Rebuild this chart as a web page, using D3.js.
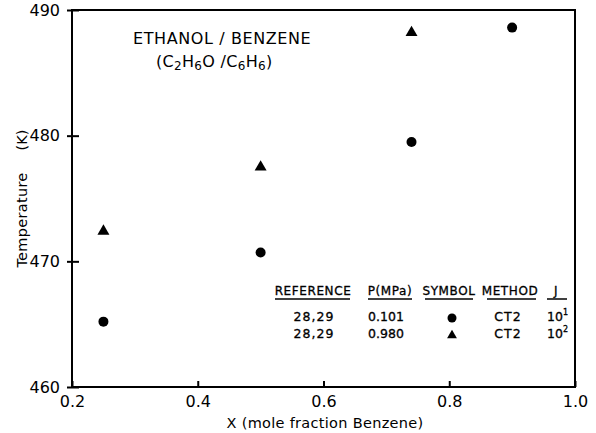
<!DOCTYPE html>
<html>
<head>
<meta charset="utf-8">
<script src="https://cdn.jsdelivr.net/npm/d3@7"></script>
<style>
  body { margin: 0; background: #fff; }
  svg text { font-family: "DejaVu Sans", "Liberation Sans", sans-serif; fill: #000; }
</style>
</head>
<body>
<svg id="chart" width="596" height="433"></svg>
<script>
// data
const ambientX = [0.25, 0.50, 0.74, 0.90];
const ambientT = [465.2, 470.7, 479.5, 488.6];
const pressX = [0.25, 0.50, 0.74];
const pressT = [472.4, 477.5, 488.2];

const xTicks = [0.2, 0.4, 0.6, 0.8, 1.0];
const xTickLabels = ["0.2", "0.4", "0.6", "0.8", "1.0"];
const yTicks = [460, 470, 480, 490];

const tableHead = ["REFERENCE", "P(MPa)", "SYMBOL", "METHOD", "J"];
const tableRefs = ["28,29", "28,29"];
const tablePress = ["0.101", "0.980"];
const tableMethod = ["CT2", "CT2"];
const tableJExp = ["1", "2"];

const mLeft = 72, mRight = 575, mTop = 10, mBottom = 387;

const svg = d3.select("#chart");

const x = d3.scaleLinear().domain([0.2, 1.0]).range([mLeft, mRight]);
const y = d3.scaleLinear().domain([460, 490]).range([mBottom, mTop]);

// frame
svg.append("rect")
  .attr("x", mLeft).attr("y", mTop)
  .attr("width", mRight - mLeft).attr("height", mBottom - mTop)
  .attr("fill", "none").attr("stroke", "#000").attr("stroke-width", 2);

// x axis, ticks point into the plot
const xAxis = d3.axisBottom(x).tickValues(xTicks)
  .tickFormat((d, i) => xTickLabels[i]).tickSizeInner(-6).tickSizeOuter(0).tickPadding(12);
const gx = svg.append("g").attr("transform", `translate(0,${mBottom})`).call(xAxis);
gx.select(".domain").remove();
gx.selectAll("line").attr("stroke-width", 2);
gx.selectAll("text").attr("font-size", 16).attr("dy", "0.5em");

// y axis, ticks cross the frame
const yAxis = d3.axisLeft(y).tickValues(yTicks).tickFormat(d3.format("d"))
  .tickSizeOuter(0).tickPadding(6);
const gy = svg.append("g").attr("transform", `translate(${mLeft},0)`).call(yAxis);
gy.select(".domain").remove();
gy.selectAll("line").attr("x1", -5).attr("x2", 7).attr("stroke-width", 2);
gy.selectAll("text").attr("font-size", 16);

// axis titles
svg.append("text")
  .attr("x", 325).attr("y", 428)
  .attr("text-anchor", "middle").attr("font-size", 14.5).attr("letter-spacing", 0.3)
  .text("X (mole fraction Benzene)");

svg.append("text")
  .attr("transform", "translate(27,220) rotate(-90)")
  .attr("text-anchor", "middle").attr("font-size", 14.5).attr("letter-spacing", 0.3)
  .text("Temperature");
svg.append("text")
  .attr("transform", "translate(27,140) rotate(-90)")
  .attr("text-anchor", "middle").attr("font-size", 14.5)
  .text("(K)");

// title block
svg.append("text")
  .attr("x", 133).attr("y", 44).attr("font-size", 16).attr("letter-spacing", 0.6)
  .text("ETHANOL / BENZENE");

const sub = svg.append("text").attr("x", 156).attr("y", 67).attr("font-size", 16).attr("letter-spacing", 0.3);
const parts = [["(C", 0], ["2", 1], ["H", 0], ["6", 1], ["O /C", 0], ["6", 1], ["H", 0], ["6", 1], [")", 0]];
let prevSub = 0;
parts.forEach(([t, s]) => {
  sub.append("tspan")
    .attr("dy", s ? 3 : (prevSub ? -3 : 0))
    .attr("font-size", s ? 12 : 16)
    .text(t);
  prevSub = s;
});

// markers
const tri = d3.symbol().type(d3.symbolTriangle).size(62);

svg.append("g").selectAll("circle")
  .data(ambientX.map((d, i) => [d, ambientT[i]]))
  .join("circle")
  .attr("cx", d => x(d[0])).attr("cy", d => y(d[1]))
  .attr("r", 5).attr("fill", "#000");

svg.append("g").selectAll("path")
  .data(pressX.map((d, i) => [d, pressT[i]]))
  .join("path")
  .attr("d", tri)
  .attr("transform", d => `translate(${x(d[0])},${y(d[1])})`)
  .attr("fill", "#000");

// legend table
const colX = [313, 390, 449, 510, 556];
const headY = 295, rowY = [321, 338];
const hg = svg.append("g");
tableHead.forEach((h, i) => {
  hg.append("text")
    .attr("x", colX[i]).attr("y", headY)
    .attr("text-anchor", "middle").attr("font-size", 12).attr("letter-spacing", 0.6)
    .attr("stroke", "#000").attr("stroke-width", 0.3)
    .text(h);
});
const underlines = [[275, 350], [368, 412], [425, 473], [487, 536], [547, 567]];
hg.selectAll("line").data(underlines).join("line")
  .attr("x1", d => d[0]).attr("x2", d => d[1])
  .attr("y1", headY + 4).attr("y2", headY + 4)
  .attr("stroke", "#000").attr("stroke-width", 1.5);

rowY.forEach((ry, r) => {
  hg.append("text").attr("x", 314).attr("y", ry)
    .attr("text-anchor", "middle").attr("font-size", 12.5).attr("letter-spacing", 1)
    .attr("stroke", "#000").attr("stroke-width", 0.3).text(tableRefs[r]);
  hg.append("text").attr("x", 386).attr("y", ry)
    .attr("text-anchor", "middle").attr("font-size", 12.5)
    .attr("stroke", "#000").attr("stroke-width", 0.3).text(tablePress[r]);
  hg.append("text").attr("x", 508).attr("y", ry)
    .attr("text-anchor", "middle").attr("font-size", 12.5).attr("letter-spacing", 1)
    .attr("stroke", "#000").attr("stroke-width", 0.3).text(tableMethod[r]);
  const j = hg.append("text").attr("x", 547).attr("y", ry).attr("font-size", 12.5)
    .attr("stroke", "#000").attr("stroke-width", 0.3);
  j.append("tspan").text("10");
  j.append("tspan").attr("dy", -6).attr("font-size", 8).text(tableJExp[r]);
});
hg.append("circle").attr("cx", 452).attr("cy", 318).attr("r", 4.5).attr("fill", "#000");
hg.append("path").attr("d", d3.symbol().type(d3.symbolTriangle).size(42))
  .attr("transform", "translate(452,335.5)").attr("fill", "#000");
</script>
</body>
</html>
